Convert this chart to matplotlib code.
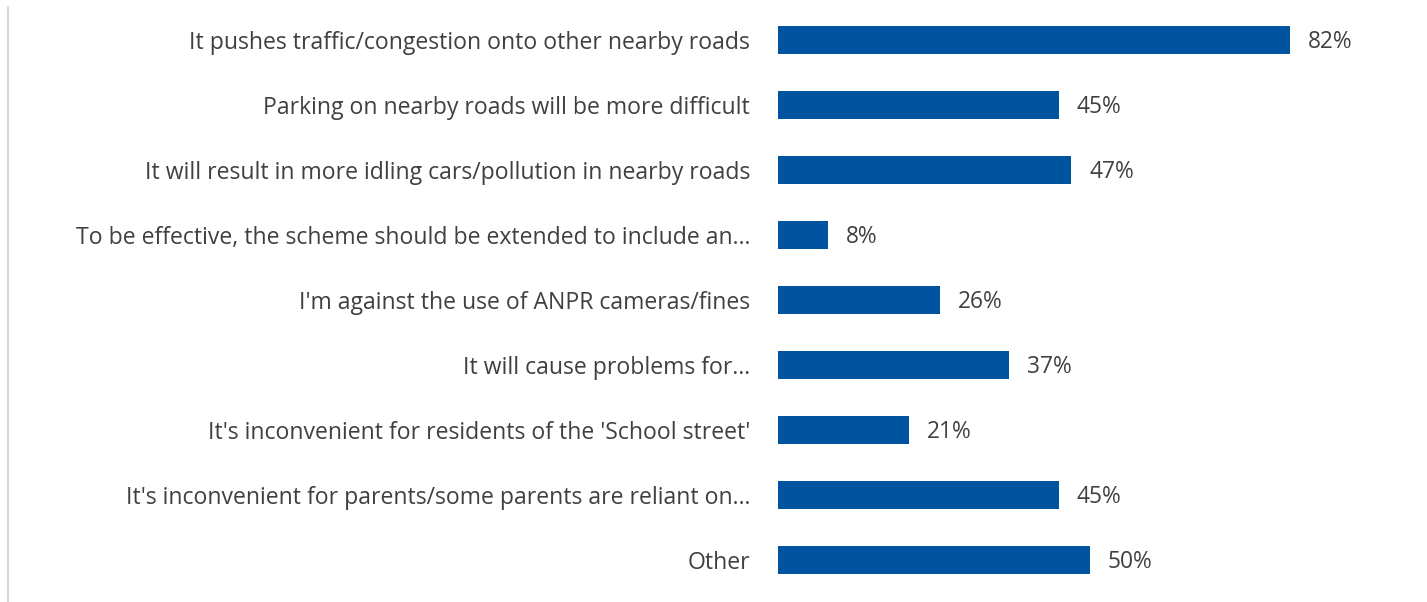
import matplotlib
matplotlib.use("Agg")
import matplotlib.pyplot as plt
from matplotlib.lines import Line2D

categories = [
    "It pushes traffic/congestion onto other nearby roads",
    "Parking on nearby roads will be more difficult",
    "It will result in more idling cars/pollution in nearby roads",
    "To be effective, the scheme should be extended to include an\u2026",
    "I'm against the use of ANPR cameras/fines",
    "It will cause problems for\u2026",
    "It's inconvenient for residents of the 'School street'",
    "It's inconvenient for parents/some parents are reliant on\u2026",
    "Other",
]
values = [82, 45, 47, 8, 26, 37, 21, 45, 50]
value_labels = ["82%", "45%", "47%", "8%", "26%", "37%", "21%", "45%", "50%"]

W, H = 1427, 602
fig = plt.figure(figsize=(W / 100, H / 100), dpi=100)
left, right = 778 / W, 1402 / W
top, bottom = 1 - 7.5 / H, 1 - 592.5 / H
ax = fig.add_axes([left, bottom, right - left, top - bottom])

bar_color = "#00539F"
text_color = "#404040"
font = "Open Sans"

y = list(range(len(categories)))
ax.barh(y, values, height=0.43, color=bar_color)
ax.set_xlim(0, 100)
ax.set_ylim(len(categories) - 0.5, -0.5)

ax.set_yticks(y)
ax.set_yticklabels(categories, fontsize=16.6, color=text_color, family=font)
ax.tick_params(axis="y", length=0, pad=20)
ax.set_xticks([])
for s in ax.spines.values():
    s.set_visible(False)

for yi, v, lab in zip(y, values, value_labels):
    ax.annotate(lab, xy=(v, yi), xytext=(18, -2), textcoords="offset pixels",
                ha="left", va="center", fontsize=16.4, color=text_color, family=font)

fig.add_artist(Line2D([7.5 / W, 7.5 / W], [0, 1 - 7 / H], transform=fig.transFigure,
                      color="#d9d9d9", linewidth=1.5))

fig.savefig("out.png", dpi=100)
